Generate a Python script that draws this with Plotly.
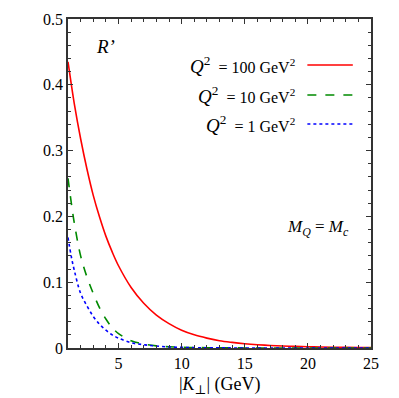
import plotly.graph_objects as go

# |K_perp| (GeV) and R'
kt = [1, 1.25, 1.5, 2, 2.5, 3, 3.5, 4, 4.5, 5, 6, 7, 8, 9, 10, 11, 12, 13, 14, 15,
      16, 17, 18, 19, 20, 21, 22, 23, 24, 25]
r_q100 = [0.435, 0.402, 0.371, 0.318, 0.272, 0.232, 0.199, 0.170, 0.146, 0.125,
          0.092, 0.068, 0.050, 0.037, 0.027, 0.020, 0.015, 0.011, 0.0085, 0.0065,
          0.005, 0.0039, 0.003, 0.0024, 0.0019, 0.0015, 0.0012, 0.001, 0.0008, 0.0006]
r_q10 = [0.258, 0.222, 0.19, 0.14, 0.108, 0.083, 0.061, 0.044, 0.031, 0.022,
         0.011, 0.006, 0.0032, 0.0019, 0.0011, 0.0007, 0.0004, 0.0003, 0.0002, 0.0001,
         0.0001, 0, 0, 0, 0, 0, 0, 0, 0, 0]
r_q1 = [0.168, 0.14, 0.118, 0.083, 0.064, 0.048, 0.036, 0.027, 0.02, 0.015,
        0.008, 0.005, 0.003, 0.0016, 0.001, 0.0006, 0.0003, 0.0002, 0.0001, 0.0001,
        0, 0, 0, 0, 0, 0, 0, 0, 0, 0]

q2_values = ["100", "10", "1"]
colors = ["#ff0000", "#008a00", "#0000ff"]
dashes = ["solid", "dash", "dot"]
series = [r_q100, r_q10, r_q1]

font = "Liberation Serif"
Q = "<span style='font-size:19px'><i>Q</i><sup>2</sup></span>"

fig = go.Figure()
for ys, c, d in zip(series, colors, dashes):
    fig.add_trace(go.Scatter(x=kt, y=ys, mode="lines", hoverinfo="skip",
                             line=dict(color=c, dash=d, width=1.6, shape="spline")))

# hand-made legend: text on the left, line sample on the right
rows = [0.860, 0.769, 0.681]
for q2, c, d, yy in zip(q2_values, colors, dashes, rows):
    fig.add_annotation(x=0.755, y=yy, xref="paper", yref="paper",
                       text=Q + "  = " + q2 + " GeV<sup>2</sup>", showarrow=False,
                       xanchor="right", yanchor="middle", font=dict(family=font, size=16, color="black"))
    fig.add_shape(type="line", xref="paper", yref="paper", x0=0.79, x1=0.94, y0=yy, y1=yy,
                  line=dict(color=c, dash=d, width=1.6))

fig.add_annotation(x=0.085, y=0.915, xref="paper", yref="paper", text="<i>R’</i>",
                   showarrow=False, xanchor="left", yanchor="middle",
                   font=dict(family=font, size=19, color="black"))
fig.add_annotation(x=0.935, y=0.365, xref="paper", yref="paper",
                   text="<i>M</i><sub><i>Q</i></sub> = <i>M</i><sub><i>c</i></sub>",
                   showarrow=False, xanchor="right", yanchor="middle",
                   font=dict(family=font, size=17, color="black"))

# x-axis title as an annotation so the perp subscript sits right
fig.add_annotation(x=0.5, y=-0.115, xref="paper", yref="paper",
                   text="|<i>K</i><sub><span style='font-family:DejaVu Serif'>⊥</span></sub>| (GeV)",
                   showarrow=False, xanchor="center", yanchor="middle",
                   font=dict(family=font, size=18, color="black"))

axis_common = dict(showgrid=False, zeroline=False, showline=True, linecolor="#333", linewidth=1.5,
                   mirror="allticks", ticks="inside", ticklen=5, tickcolor="#333", tickwidth=1,
                   tickfont=dict(family=font, size=16, color="black"))

fig.update_xaxes(range=[1, 25], tickvals=[5, 10, 15, 20, 25],
                 minor=dict(dtick=1, tick0=0, ticks="inside", ticklen=3, tickcolor="#333"),
                 **axis_common)
fig.update_yaxes(range=[0, 0.5], tickvals=[0, 0.1, 0.2, 0.3, 0.4, 0.5],
                 ticktext=["0", "0.1", "0.2", "0.3", "0.4", "0.5"],
                 minor=dict(dtick=0.02, tick0=0, ticks="inside", ticklen=3, tickcolor="#333"),
                 **axis_common)

fig.update_layout(width=399, height=398, margin=dict(l=68, r=28, t=19, b=50),
                  plot_bgcolor="white", paper_bgcolor="white", showlegend=False,
                  font=dict(family=font, color="black"))

fig.write_html("out.html", config={"displayModeBar": False},
               post_script="document.body.style.margin='0';")
